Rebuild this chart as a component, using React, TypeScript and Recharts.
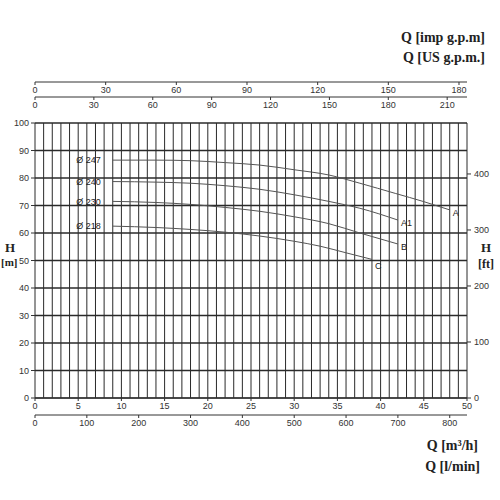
import React from 'react';
import { LineChart, Line, XAxis, YAxis, ReferenceLine, ReferenceDot } from 'recharts';

// flow in m3/h, head in m
const curveA = [
  { q: 9, h: 86.5 }, { q: 14, h: 86.5 }, { q: 18, h: 86.3 }, { q: 22, h: 85.6 },
  { q: 26, h: 84.7 }, { q: 30, h: 83.0 }, { q: 34, h: 81.1 }, { q: 37.6, h: 78.1 },
  { q: 41.7, h: 74.4 }, { q: 45, h: 71.4 }, { q: 48, h: 68.4 },
];
const curveA1 = [
  { q: 9, h: 78.7 }, { q: 14, h: 78.5 }, { q: 18, h: 78.1 }, { q: 22, h: 77.2 },
  { q: 26, h: 75.9 }, { q: 30, h: 73.9 }, { q: 34, h: 71.5 }, { q: 37.6, h: 69.0 },
  { q: 42, h: 64.7 },
];
const curveB = [
  { q: 9, h: 71.5 }, { q: 14, h: 71.1 }, { q: 18, h: 70.4 }, { q: 22, h: 69.3 },
  { q: 26, h: 67.9 }, { q: 30, h: 65.9 }, { q: 34, h: 63.4 }, { q: 37.6, h: 60.0 },
  { q: 42, h: 56.0 },
];
const curveC = [
  { q: 9, h: 62.5 }, { q: 14, h: 62.0 }, { q: 18, h: 61.3 }, { q: 22, h: 60.3 },
  { q: 26, h: 58.9 }, { q: 30, h: 57.0 }, { q: 33, h: 55.2 }, { q: 36, h: 52.8 },
  { q: 39, h: 50.4 },
];

const curves = [
  { name: 'A', dia: 'Ø 247', data: curveA },
  { name: 'A1', dia: 'Ø 240', data: curveA1 },
  { name: 'B', dia: 'Ø 230', data: curveB },
  { name: 'C', dia: 'Ø 218', data: curveC },
];

const m3hTicks = [0, 5, 10, 15, 20, 25, 30, 35, 40, 45, 50];
const lminTicks = [0, 100, 200, 300, 400, 500, 600, 700, 800];
const usTicks = [0, 30, 60, 90, 120, 150, 180, 210];
const impTicks = [0, 30, 60, 90, 120, 150, 180];
const mTicks = [0, 10, 20, 30, 40, 50, 60, 70, 80, 90, 100];
const ftTicks = [0, 100, 200, 300, 400];
const gridQ = Array.from({ length: 51 }, (_, i) => i);

// full range of each secondary scale (same flow / head as 50 m3/h and 100 m)
const lminMax = 833.3;
const usMax = 220.1;
const impMax = 183.4;
const ftMax = 491;
const lminRange = [{ q: 0, h: 0 }, { q: lminMax, h: ftMax }];
const usRange = [{ q: 0, h: 0 }, { q: usMax, h: 0 }];
const impRange = [{ q: 0, h: 0 }, { q: impMax, h: 0 }];

const tickFont = { fontFamily: 'Liberation Sans, Arial, sans-serif', fontSize: 9, fill: '#333' };
const titleStyle: React.CSSProperties = {
  position: 'absolute',
  fontFamily: 'Liberation Serif, serif',
  fontWeight: 'bold',
  fontSize: 14,
  color: '#222',
  whiteSpace: 'nowrap',
};

// top axes: labels sit below the axis line
const TopTick = (props: any) => {
  const { x, y, payload } = props;
  return (
    <g>
      <line x1={x} x2={x} y1={y} y2={y + 3} stroke="#333" />
      <text x={x} y={y + 11} textAnchor="middle" {...tickFont}>{payload.value}</text>
    </g>
  );
};

// axis ids are stacked in id order, b1 / t1 sit next to the plot
const App = () => (
  <div style={{ position: 'absolute', left: 0, top: 0, width: 500, height: 500, background: '#fff' }}>
    <LineChart width={500} height={500} margin={{ top: 62, right: 0, bottom: 65, left: 8 }}>
      <XAxis xAxisId="b1" dataKey="q" type="number" domain={[0, 50]} ticks={m3hTicks}
        orientation="bottom" height={17} tickSize={3} tickMargin={2} tick={tickFont}
        stroke="#333" allowDataOverflow />
      <XAxis xAxisId="b2" dataKey="q" type="number" domain={[0, lminMax]} ticks={lminTicks}
        orientation="bottom" height={20} tickSize={3} tickMargin={2} tick={tickFont}
        stroke="#333" allowDataOverflow />
      <XAxis xAxisId="t1" type="number" domain={[0, 1]} orientation="top" height={26}
        tick={false} axisLine={false} tickLine={false} />
      <XAxis xAxisId="t2" dataKey="q" type="number" domain={[0, usMax]} ticks={usTicks}
        orientation="top" height={15} tickSize={0} tickMargin={0} tickLine={false}
        tick={<TopTick />} stroke="#333" allowDataOverflow />
      <XAxis xAxisId="t3" dataKey="q" type="number" domain={[0, impMax]} ticks={impTicks}
        orientation="top" height={20} tickSize={0} tickMargin={0} tickLine={false}
        tick={<TopTick />} stroke="#333" allowDataOverflow />
      <YAxis yAxisId="m" type="number" domain={[0, 100]} ticks={mTicks} width={27}
        tickSize={4} tickMargin={2} tick={tickFont} axisLine={false} stroke="#333" />
      <YAxis yAxisId="ft" orientation="right" type="number" domain={[0, ftMax]} ticks={ftTicks}
        width={33} tickSize={4} tickMargin={3} tick={tickFont} axisLine={false} stroke="#333"
        allowDataOverflow />

      {gridQ.map((q) => (
        <ReferenceLine key={'v' + q} xAxisId="b1" yAxisId="m" x={q} stroke="#2a2a2a" strokeWidth={1} />
      ))}
      {mTicks.map((h) => (
        <ReferenceLine key={'h' + h} xAxisId="b1" yAxisId="m" y={h} stroke="#2a2a2a" strokeWidth={1.4} />
      ))}

      {/* invisible series so the secondary scales get drawn */}
      <Line xAxisId="b2" yAxisId="ft" data={lminRange} dataKey="h" stroke="none" dot={false}
        activeDot={false} isAnimationActive={false} />
      <Line xAxisId="t2" yAxisId="m" data={usRange} dataKey="h" stroke="none" dot={false}
        activeDot={false} isAnimationActive={false} />
      <Line xAxisId="t3" yAxisId="m" data={impRange} dataKey="h" stroke="none" dot={false}
        activeDot={false} isAnimationActive={false} />

      {curves.map((c) => (
        <Line key={c.name} xAxisId="b1" yAxisId="m" data={c.data} dataKey="h" type="monotone"
          stroke="#555" strokeWidth={1} dot={false} isAnimationActive={false} />
      ))}

      {curves.map((c) => (
        <ReferenceDot key={'s' + c.name} xAxisId="b1" yAxisId="m" x={c.data[0].q} y={c.data[0].h}
          r={0} stroke="none" fill="none"
          label={{ value: c.dia, position: 'left', offset: 12, ...tickFont, fill: '#222' }} />
      ))}
      {curves.map((c) => {
        const last = c.data[c.data.length - 1];
        return (
          <ReferenceDot key={'e' + c.name} xAxisId="b1" yAxisId="m" x={last.q} y={last.h}
            r={0} stroke="none" fill="none"
            label={{ value: c.name, position: 'right', offset: 3, dy: c.name === 'C' ? 6 : 3, ...tickFont, fill: '#222' }} />
        );
      })}
    </LineChart>

    <div style={{ ...titleStyle, right: 15, top: 30 }}>Q [imp g.p.m]</div>
    <div style={{ ...titleStyle, right: 15, top: 50 }}>Q [US g.p.m.]</div>
    <div style={{ ...titleStyle, right: 22, top: 438 }}>Q [m³/h]</div>
    <div style={{ ...titleStyle, right: 20, top: 459 }}>Q [l/min]</div>
    <div style={{ ...titleStyle, left: 5, top: 240, fontSize: 13 }}>H</div>
    <div style={{ ...titleStyle, left: 1, top: 256, fontSize: 11 }}>[m]</div>
    <div style={{ ...titleStyle, left: 481, top: 240, fontSize: 13 }}>H</div>
    <div style={{ ...titleStyle, left: 478, top: 257, fontSize: 12 }}>[ft]</div>
  </div>
);

export default App;
